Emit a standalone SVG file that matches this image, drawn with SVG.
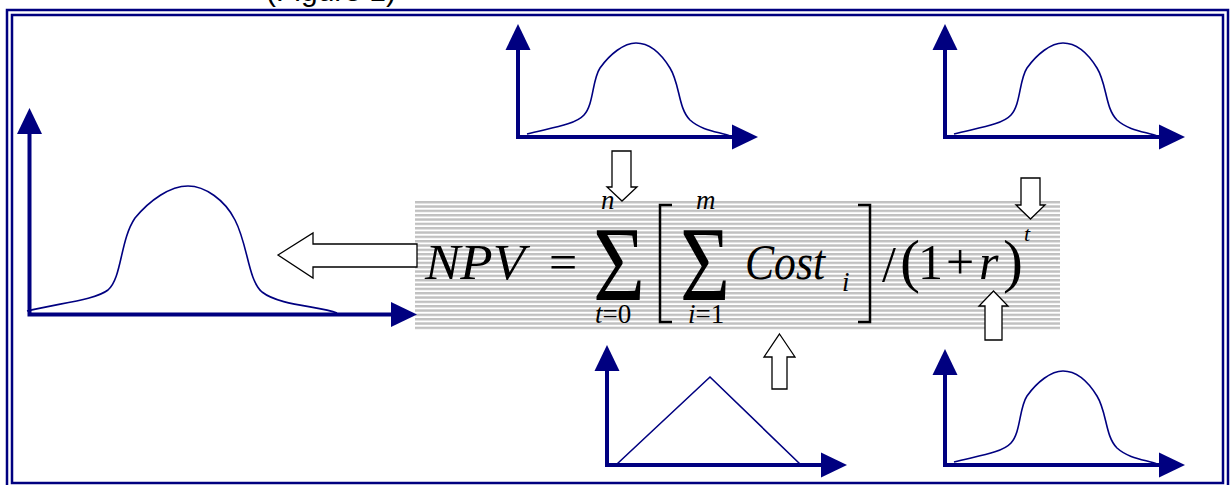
<svg xmlns="http://www.w3.org/2000/svg" width="1230" height="485" viewBox="0 0 1230 485">
<style>
.frame{fill:none;stroke:#000080;stroke-width:2.5}
.axis{fill:none;stroke:#000080;stroke-width:4;marker-start:url(#ah);marker-end:url(#ah)}
.curve{fill:none;stroke:#000080;stroke-width:1.6}
.hollow{fill:#fff;stroke:#000;stroke-width:1.3;stroke-linejoin:miter}
.m{font-family:"Liberation Serif","Times New Roman",serif;fill:#000}
.it{font-style:italic}
.big{font-size:50px}
.sm{font-size:27px}
.brk{fill:none;stroke:#000;stroke-width:2.5}
</style>
<defs>
<marker id="ah" markerUnits="userSpaceOnUse" markerWidth="26" markerHeight="26" viewBox="0 0 26 25" refX="0" refY="12.5" orient="auto-start-reverse">
<path d="M0,0 L26,12.5 L0,25 Z" fill="#000080"/>
</marker>
<pattern id="stripes" patternUnits="userSpaceOnUse" x="0" y="201" width="10" height="4.3333">
<rect x="0" y="0" width="10" height="2.4" fill="#c0c0c0"/>
</pattern>
</defs>
<rect width="1230" height="485" fill="#fff"/>
<text x="266" y="1" font-family="Liberation Sans, Arial, sans-serif" font-size="30" fill="#000">(Figure 1)</text>
<g id="frame">
<rect class="frame" x="7" y="10" width="1221" height="482"/>
<rect class="frame" x="12" y="15" width="1211" height="468"/>
</g>
<g id="formula">
<rect x="415" y="201" width="645" height="130" fill="url(#stripes)"/>
<text class="m it big" x="425" y="279" textLength="100" lengthAdjust="spacingAndGlyphs">NPV</text>
<text class="m big" x="549" y="279">=</text>
<text class="m" x="593" y="300" font-size="106" textLength="52" lengthAdjust="spacingAndGlyphs">Σ</text>
<text class="m it sm" x="601" y="209">n</text>
<text class="m sm" x="595" y="323"><tspan class="it">t</tspan>=0</text>
<path class="brk" d="M672,205 L660,205 L660,322 L672,322"/>
<text class="m" x="680" y="300" font-size="106" textLength="50" lengthAdjust="spacingAndGlyphs">Σ</text>
<text class="m it sm" x="696" y="209">m</text>
<text class="m sm" x="688" y="323"><tspan class="it">i</tspan>=1</text>
<text class="m it big" x="745" y="279" textLength="80" lengthAdjust="spacingAndGlyphs">Cost</text>
<text class="m it sm" x="842" y="291">i</text>
<path class="brk" d="M858,205 L870,205 L870,322 L858,322"/>
<text class="m big" x="882" y="281">/</text>
<text class="m" x="900" y="281" font-size="60">(</text>
<text class="m big" x="918" y="279">1</text>
<text class="m big" x="946" y="279">+</text>
<text class="m it big" x="979" y="279">r</text>
<text class="m" x="1003" y="281" font-size="60">)</text>
<text class="m it" x="1024" y="241" font-size="22">t</text>
</g>
<g id="chart-left">
<path class="axis" d="M29.5,134 L29.5,314.5 L391,314.5"/>
<path class="curve" d="M27,311 C60,303 95,300 108,290 C122,278 120,240 135,218 C150,200 170,186 188,186 C205,186 225,200 235,220 C248,245 248,280 262,292 C280,306 320,306 337,313"/>
</g>
<g id="chart-top-center">
<path class="axis" d="M518,50 L518,137 L732,137"/>
<path class="curve" d="M527,134 C550,128 575,125 584,115 C594,104 592,80 600,68 C610,54 624,43 636,43 C650,43 662,55 670,68 C680,84 678,108 690,120 C702,131 720,132 730,136"/>
</g>
<g id="chart-top-right" transform="translate(427,0)">
<path class="axis" d="M518,50 L518,137 L732,137"/>
<path class="curve" d="M527,134 C550,128 575,125 584,115 C594,104 592,80 600,68 C610,54 624,43 636,43 C650,43 662,55 670,68 C680,84 678,108 690,120 C702,131 720,132 730,136"/>
</g>
<g id="chart-bottom-center">
<path class="axis" d="M607,371 L607,465 L821,465"/>
<path class="curve" d="M617,464 L710,377 L800,464"/>
</g>
<g id="chart-bottom-right" transform="translate(427,328)">
<path class="axis" d="M518,47 L518,137 L732,137"/>
<path class="curve" d="M527,134 C550,128 575,125 584,115 C594,104 592,80 600,68 C610,54 624,43 636,43 C650,43 662,55 670,68 C680,84 678,108 690,120 C702,131 720,132 730,136"/>
</g>
<g id="connectors">
<polygon class="hollow" points="278,255 313,233 313,244 417,244 417,267 313,267 313,278"/>
<polygon class="hollow" points="612,151 631,151 631,187 637,187 622,201 607,187 612,187"/>
<polygon class="hollow" points="779.5,334 795,357 787,357 787,389 772,389 772,357 764,357"/>
<polygon class="hollow" points="1021,178 1040,178 1040,205 1045,205 1030.5,219 1016,205 1021,205"/>
<polygon class="hollow" points="993.5,291 1008,306 1002,306 1002,340 985,340 985,306 979,306"/>
</g>
</svg>
